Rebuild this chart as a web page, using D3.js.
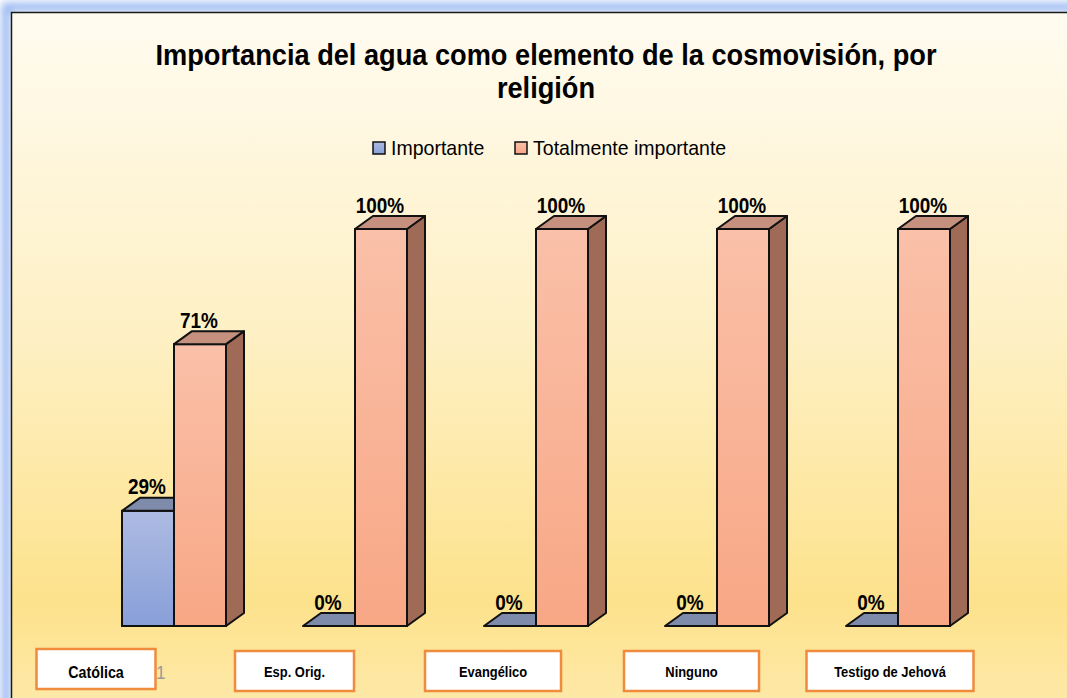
<!DOCTYPE html>
<html>
<head>
<meta charset="utf-8">
<script src="https://cdn.jsdelivr.net/npm/d3@7"></script>
<style>
  html, body { margin: 0; padding: 0; background: #ffffff; }
  svg { display: block; font-family: "Liberation Sans", Arial, sans-serif; }
</style>
</head>
<body>
<div class="chart"></div>
<script>
// chart values
var categories = ["Católica", "Esp. Orig.", "Evangélico", "Ninguno", "Testigo de Jehová"];
var series = ["Importante", "Totalmente importante"];
var importante = [0.29, 0, 0, 0, 0];
var totalmente = [0.71, 1, 1, 1, 1];

var W = 1067, H = 698;
var DEPTH_X = 18, DEPTH_Y = 13;
var BOX_W = [119, 119, 136, 135, 167];   // label box widths

var COLORS = {
	"Importante": { front: ["#adbbe2", "#889fd8"], top: "#7f8bab", side: "#6f7ca0" },
	"Totalmente importante": { front: ["#fac0a9", "#f8a785"], top: "#c6907e", side: "#9f6a56" }
};

// squeeze text horizontally to mimic the narrow font of the original
function squeeze( sel, k ) {
	sel.each(function () {
		var w = this.getComputedTextLength();
		d3.select(this)
			.attr("textLength", w * k)
			.attr("lengthAdjust", "spacingAndGlyphs");
	});
}

var svg = d3.select(".chart").append("svg")
	.attr("width", W)
	.attr("height", H);

var defs = svg.append("defs");

var bg = defs.append("linearGradient").attr("id", "bg").attr("x1", 0).attr("y1", 0).attr("x2", 0).attr("y2", 1);
bg.append("stop").attr("offset", "0%").attr("stop-color", "#fffbf0");
bg.append("stop").attr("offset", "45%").attr("stop-color", "#fef0c4");
bg.append("stop").attr("offset", "82%").attr("stop-color", "#fde28c");
bg.append("stop").attr("offset", "100%").attr("stop-color", "#feeaaf");

var glow = defs.append("filter").attr("id", "glow").attr("x", "-5%").attr("y", "-5%").attr("width", "110%").attr("height", "110%");
glow.append("feGaussianBlur").attr("stdDeviation", 4);

series.forEach(function ( s, i ) {
	var g = defs.append("linearGradient").attr("id", "front" + i).attr("x1", 0).attr("y1", 0).attr("x2", 0).attr("y2", 1);
	g.append("stop").attr("offset", "0%").attr("stop-color", COLORS[s].front[0]);
	g.append("stop").attr("offset", "100%").attr("stop-color", COLORS[s].front[1]);
});

// frame with blue glow
svg.append("rect")
	.attr("x", 6).attr("y", 7)
	.attr("width", W + 20).attr("height", H + 20)
	.attr("fill", "none")
	.attr("stroke", "#8fb0f0")
	.attr("stroke-width", 8)
	.attr("filter", "url(#glow)");

svg.append("rect")
	.attr("x", 11.5).attr("y", 12.5)
	.attr("width", W + 20).attr("height", H + 20)
	.attr("fill", "url(#bg)")
	.attr("stroke", "#1a1a1a")
	.attr("stroke-width", 1.5);

// title
var title = svg.append("text")
	.attr("text-anchor", "middle")
	.attr("font-weight", "bold")
	.attr("font-size", 29)
	.attr("fill", "#000");
var t1 = title.append("tspan").attr("x", 546).attr("y", 65).text("Importancia del agua como elemento de la cosmovisión, por");
var t2 = title.append("tspan").attr("x", 546).attr("y", 98).text("religión");
var titleK = 781 / t1.node().getComputedTextLength();
squeeze(t1, titleK);
squeeze(t2, titleK);

// legend
var legendX = [373, 515];
var legend = svg.append("g").attr("class", "legend");
series.forEach(function ( s, i ) {
	legend.append("rect")
		.attr("x", legendX[i]).attr("y", 142)
		.attr("width", 12).attr("height", 12)
		.attr("fill", "url(#front" + i + ")")
		.attr("stroke", "#111")
		.attr("stroke-width", 1.5);
	legend.append("text")
		.attr("x", legendX[i] + 18).attr("y", 154.5)
		.attr("font-size", 21)
		.attr("fill", "#000")
		.text(s)
		.call(squeeze, 0.93);
});

// scales
var x0 = d3.scaleBand()
	.domain(categories)
	.range([122, 950])
	.paddingInner(0.4254)
	.paddingOuter(0);

var x1 = d3.scaleBand()
	.domain(series)
	.range([0, x0.bandwidth()])
	.padding(0);

var y = d3.scaleLinear()
	.domain([0, 1])
	.range([626, 229]);

var rows = categories.map(function ( c, i ) {
	return { cat: c, vals: [importante[i], totalmente[i]] };
});

var plot = svg.append("g").attr("class", "bars");

rows.forEach(function ( r ) {
	series.forEach(function ( s, si ) {
		var v = r.vals[si];
		var xl = x0(r.cat) + x1(s);
		var xr = xl + x1.bandwidth();
		var yt = y(v), yb = y(0);
		var g = plot.append("g").attr("class", "bar");

		if ( v > 0 ) {
			// side face
			g.append("path")
				.attr("d", "M" + xr + "," + yb + "L" + (xr + DEPTH_X) + "," + (yb - DEPTH_Y) +
					"L" + (xr + DEPTH_X) + "," + (yt - DEPTH_Y) + "L" + xr + "," + yt + "Z")
				.attr("fill", COLORS[s].side)
				.attr("stroke", "#111").attr("stroke-width", 2).attr("stroke-linejoin", "round");
			// front face
			g.append("rect")
				.attr("x", xl).attr("y", yt)
				.attr("width", xr - xl).attr("height", yb - yt)
				.attr("fill", "url(#front" + si + ")")
				.attr("stroke", "#111").attr("stroke-width", 2);
		}
		// top face
		g.append("path")
			.attr("d", "M" + xl + "," + yt + "L" + (xl + DEPTH_X) + "," + (yt - DEPTH_Y) +
				"L" + (xr + DEPTH_X) + "," + (yt - DEPTH_Y) + "L" + xr + "," + yt + "Z")
			.attr("fill", COLORS[s].top)
			.attr("stroke", "#111").attr("stroke-width", 2).attr("stroke-linejoin", "round");

		// value label
		g.append("text")
			.attr("x", (xl + xr) / 2 - 1)
			.attr("y", yt - DEPTH_Y - 3.5)
			.attr("text-anchor", "middle")
			.attr("font-weight", "bold")
			.attr("font-size", 22)
			.attr("fill", "#000")
			.text(d3.format(".0%")(v))
			.call(squeeze, 0.86);
	});
});

// category label boxes
var boxX = d3.scalePoint()
	.domain(categories)
	.range([96, 890]);

var labels = svg.append("g").attr("class", "cat-labels");
categories.forEach(function ( c, i ) {
	var cx = boxX(c);
	labels.append("rect")
		.attr("x", cx - BOX_W[i] / 2).attr("y", i === 0 ? 649 : 651)
		.attr("width", BOX_W[i]).attr("height", 40)
		.attr("fill", "#ffffff")
		.attr("stroke", "#f08a3c")
		.attr("stroke-width", 2.5);
	labels.append("text")
		.attr("x", cx).attr("y", i === 0 ? 678 : 677)
		.attr("text-anchor", "middle")
		.attr("font-weight", "bold")
		.attr("font-size", i === 0 ? 17 : 14.5)
		.attr("fill", "#000")
		.text(c)
		.call(squeeze, i === 0 ? 0.84 : 0.89);
});

svg.append("text")
	.attr("x", 156).attr("y", 679)
	.attr("font-size", 19)
	.attr("fill", "#9a9a9a")
	.text("1")
	.call(squeeze, 0.9);
</script>
</body>
</html>
